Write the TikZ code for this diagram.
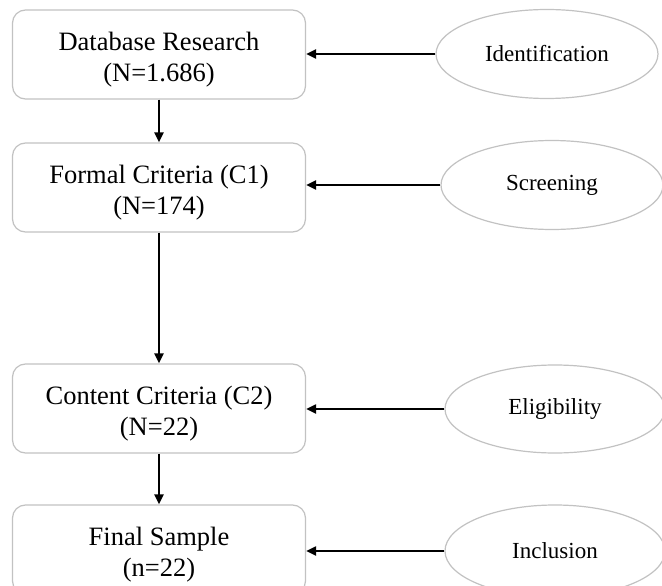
\documentclass[tikz,border=0pt]{standalone}
\usepackage{fontspec}
\setmainfont{Liberation Serif}
\usetikzlibrary{arrows.meta,shapes.geometric}
\newcommand{\lowstrut}{\rule{0pt}{29pt}}
\tikzset{
  stagebox/.style={draw=black!24, line width=1.2pt, rounded corners=13pt, fill=white,
    minimum width=293pt, minimum height=89pt, align=center, inner sep=0pt,
    font=\fontsize{26.5}{31}\selectfont},
  phase/.style={draw=black!24, line width=1.2pt, ellipse, fill=white,
    minimum width=222pt, minimum height=89pt, inner sep=0pt,
    font=\fontsize{23}{27}\selectfont},
  arr/.style={-{Triangle[length=10pt,width=9pt]}, line width=2pt, black}
}
\begin{document}
\begin{tikzpicture}[x=1pt,y=-1pt]
\useasboundingbox (0,0) rectangle (662,586);
\clip (0,0) rectangle (662,586);
\fill[white] (0,0) rectangle (662,586);
\node[stagebox] (b1) at (159,54.5) {\lowstrut Database Research\\(N=1.686)};
\node[stagebox] (b2) at (159,187.5) {\lowstrut Formal Criteria (C1)\\(N=174)};
\node[stagebox] (b3) at (159,408.5) {\lowstrut Content Criteria (C2)\\(N=22)};
\node[stagebox] (b4) at (159,549.5) {\lowstrut Final Sample\\(n=22)};
\node[phase] (e1) at (547,54) {Identification};
\node[phase] (e2) at (552,185) {Screening};
\node[phase, minimum width=220pt, minimum height=88pt] (e3) at (555,409) {Eligibility};
\node[phase, minimum width=220pt, minimum height=92pt] (e4) at (555,551) {Inclusion};
\draw[arr] (b1.south) -- (b2.north);
\draw[arr] (b2.south) -- (b3.north);
\draw[arr] (b3.south) -- (b4.north);
\draw[arr] (e1.west) -- (e1.west -| b1.east);
\draw[arr] (e2.west) -- (e2.west -| b2.east);
\draw[arr] (e3.west) -- (e3.west -| b3.east);
\draw[arr] (e4.west) -- (e4.west -| b4.east);
\end{tikzpicture}
\end{document}
